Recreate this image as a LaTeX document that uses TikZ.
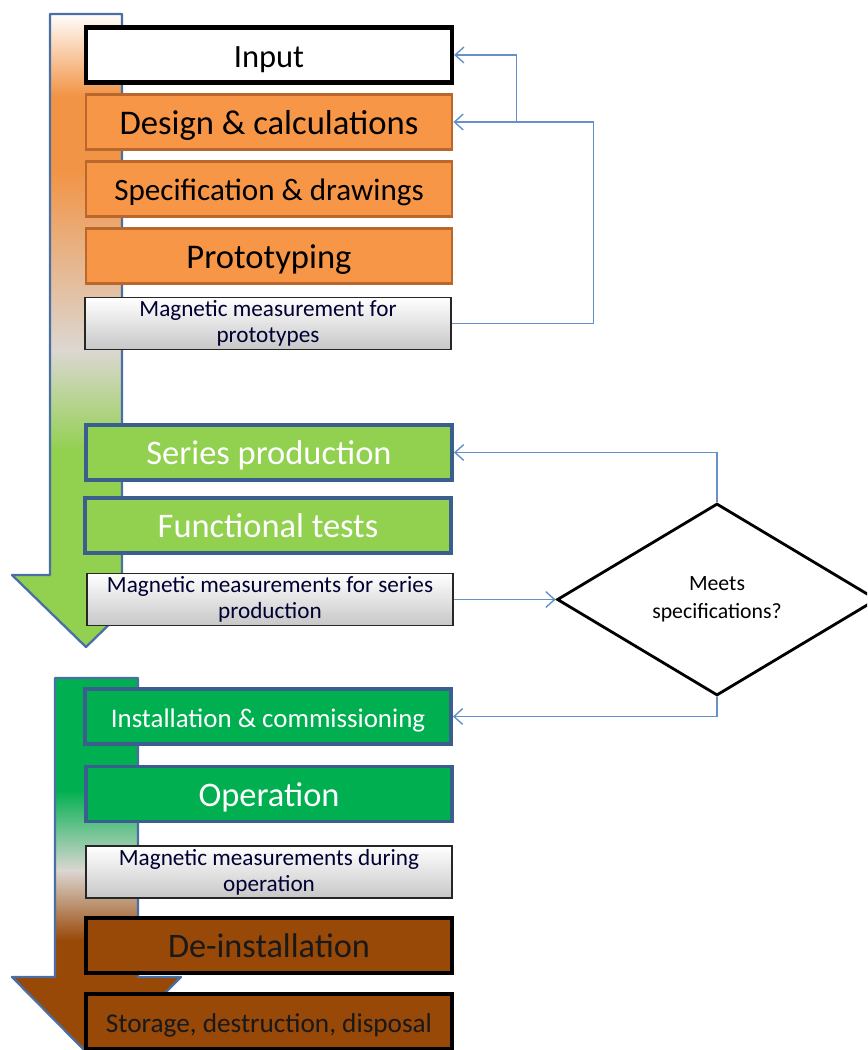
\documentclass[tikz,border=0pt]{standalone}
\usepackage{fontspec}
\setmainfont{Carlito}
\usetikzlibrary{shapes.geometric,arrows.meta}

\definecolor{orangefill}{HTML}{F79646}
\definecolor{orangeline}{HTML}{B9672B}
\definecolor{limefill}{HTML}{92D050}
\definecolor{greenfill}{HTML}{00B050}
\definecolor{brownfill}{HTML}{984807}
\definecolor{frameblue}{HTML}{3A5F8E}
\definecolor{arrowblue}{HTML}{4A6FA5}
\definecolor{linkblue}{HTML}{6690CA}
\definecolor{fadegray}{HTML}{DCD7D2}

\tikzset{
    stage/.style={draw, minimum width=7.32cm, minimum height=1.1cm, inner sep=0pt,
        text depth=0pt},
    bigtext/.style={font=\fontsize{#1}{21}\selectfont, text height=14pt},
    smalltext/.style={font=\fontsize{#1}{17}\selectfont, text height=12pt},
    orangestage/.style={stage, fill=orangefill, draw=orangeline, line width=1.6pt},
    limestage/.style={stage, fill=limefill, draw=frameblue, line width=2.2pt, text=white},
    greenstage/.style={stage, fill=greenfill, draw=frameblue, line width=2.2pt, text=white},
    brownstage/.style={stage, fill=brownfill, draw=black, line width=2.2pt, text=black!90},
    measbox/.style={draw, minimum width=7.32cm, minimum height=1.04cm, inner sep=0pt,
        top color=white, bottom color=black!22, draw=black!85, line width=0.8pt,
        align=center, text=black!80!blue, font=\fontsize{13.2}{15}\selectfont},
    link/.style={draw=linkblue, line width=0.8pt, -{Straight Barb[length=5pt,width=9pt]}},
}

\begin{document}
\begin{tikzpicture}[x=0.02cm, y=-0.02cm]
        \clip (0,0) rectangle (867,1050);

        % upper arrow
        \begin{scope}
            \clip (50,14) -- (122,14) -- (122,575) -- (160,575) -- (86,647)
                -- (12,575) -- (50,575) -- cycle;
            \fill[top color=white, bottom color=orangefill!90!brown] (0,13) rectangle (200,96);
            \fill[orangefill!90!brown] (0,95) rectangle (200,171);
            \fill[top color=orangefill!90!brown, bottom color=fadegray] (0,170) rectangle (200,351);
            \fill[top color=fadegray, bottom color=limefill] (0,350) rectangle (200,451);
            \fill[limefill] (0,450) rectangle (200,660);
        \end{scope}
        \draw[arrowblue, line width=1.3pt, line join=round] (50,14) -- (122,14) -- (122,575)
            -- (160,575) -- (86,647) -- (12,575) -- (50,575) -- cycle;

        % lower arrow
        \begin{scope}
            \clip (55,678) -- (138,678) -- (138,977) -- (181,977) -- (96,1062)
                -- (12,977) -- (55,977) -- cycle;
            \fill[greenfill] (0,670) rectangle (200,791);
            \fill[top color=greenfill, bottom color=fadegray] (0,790) rectangle (200,871);
            \fill[top color=fadegray, bottom color=brownfill] (0,870) rectangle (200,941);
            \fill[brownfill] (0,940) rectangle (200,1070);
        \end{scope}
        \draw[arrowblue, line width=1.3pt, line join=round] (55,678) -- (138,678) -- (138,977)
            -- (181,977) -- (96,1062) -- (12,977) -- (55,977) -- cycle;

        % design stages
        \node[stage, fill=white, line width=2.4pt, bigtext=18.5] (input) at (269,55) {Input};
        \node[orangestage, bigtext=19.7] (design) at (269,122)
            {Design \& calculations};
        \node[orangestage, bigtext=17.7, text height=13pt] (spec) at (269,189)
            {Specification \& drawings};
        \node[orangestage, bigtext=19.7] (proto) at (269,256)
            {Prototyping};
        \node[measbox] (measproto) at (268,323.5)
            {Magnetic measurement for\\prototypes};

        % production
        \node[limestage, bigtext=19.6] (series) at (269,452.5)
            {Series production};
        \node[limestage, bigtext=19.6] (functional) at (268,525.5)
            {Functional tests};
        \node[measbox] (measseries) at (270,599.5)
            {Magnetic measurements for series\\production};

        % decision
        \node[draw, shape=diamond, line width=1.6pt, minimum width=6.4cm,
            minimum height=3.84cm, inner sep=0pt, align=center,
            font=\fontsize{12.4}{16}\selectfont] (check) at (717,599.5)
            {Meets\\specifications?};

        % operation
        \node[greenstage, smalltext=15.3] (install) at (268,716.5)
            {Installation \& commissioning};
        \node[greenstage, bigtext=19.6] (operation) at (269,794)
            {Operation};
        \node[measbox] (measop) at (269,872)
            {Magnetic measurements during\\operation};
        \node[brownstage, bigtext=19.5] (deinst) at (269,945.5)
            {De-installation};
        \node[brownstage, smalltext=15.5] (storage) at (269,1021.5)
            {Storage, destruction, disposal};

        % feedback loops
        \coordinate (split) at ([xshift=1.26cm]design.east);
        \draw[link] (measproto.east) -- ++(142,0) |- (design.east);
        \draw[link] (split) |- (input.east);
        \draw[link] (measseries.east) -- (check.west);
        \draw[link] (check.north) |- (series.east);
        \draw[link] (check.south) |- (install.east);
\end{tikzpicture}
\end{document}
